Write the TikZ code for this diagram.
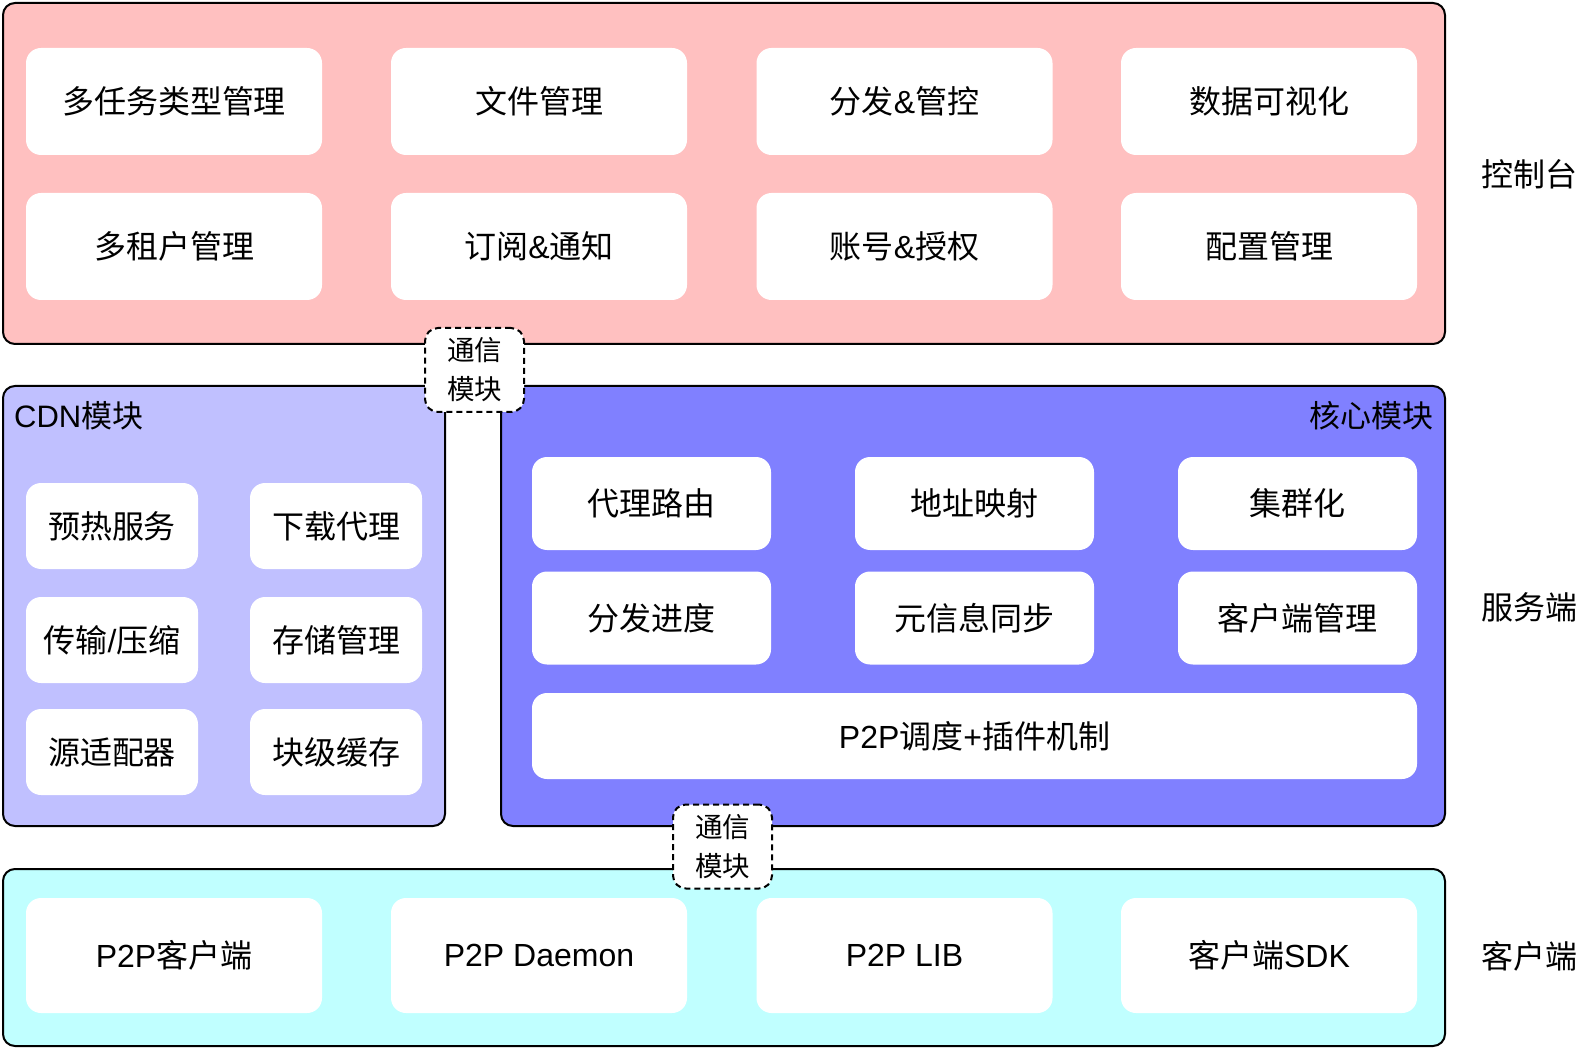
\documentclass[tikz,border=0pt]{standalone}
\usepackage{fontspec}
\setmainfont{Noto Sans CJK SC}
\newfontfamily\lat{Liberation Sans}
\definecolor{pinkc}{HTML}{FFC0C0}
\definecolor{lavc}{HTML}{C0C0FF}
\definecolor{bluec}{HTML}{8080FF}
\definecolor{cyanc}{HTML}{C0FFFF}
\begin{document}
\begin{tikzpicture}[x=1pt,y=-1pt,
  panel/.style={draw=black, line width=2pt, rounded corners=12pt, anchor=north west, inner sep=0pt},
  cell/.style={fill=white, rounded corners=15pt, inner sep=0pt, font=\fontsize{32}{36}\selectfont},
  comm/.style={draw=black, dashed, dash pattern=on 6pt off 4pt, line width=2pt, fill=white, rounded corners=13pt, align=center, inner sep=0pt, minimum width=99pt, minimum height=84pt, font=\fontsize{27.5}{39}\selectfont},
  side/.style={font=\fontsize{32}{36}\selectfont, inner sep=0pt},
  ttl/.style={font=\fontsize{31}{36}\selectfont, inner sep=0pt}]
\useasboundingbox (0,0) rectangle (1588,1048);
% panels
\node[panel, fill=pinkc, minimum width=1442pt, minimum height=341pt] (ctrl) at (2,2) {};
\node[panel, fill=lavc, minimum width=442pt, minimum height=440pt] (cdn) at (2,385) {};
\node[panel, fill=bluec, minimum width=944pt, minimum height=440pt] (core) at (500,385) {};
\node[panel, fill=cyanc, minimum width=1442pt, minimum height=177pt] (cli) at (2,868) {};
% control cells
\begin{scope}[every node/.append style={cell, minimum width=296pt, minimum height=107pt}]
\node (c11) at (174,101.5) {多任务类型管理};
\node (c12) at (539,101.5) {文件管理};
\node (c13) at (904.5,101.5) {分发{\lat\&}管控};
\node (c14) at (1269,101.5) {数据可视化};
\node (c21) at (174,246.5) {多租户管理};
\node (c22) at (539,246.5) {订阅{\lat\&}通知};
\node (c23) at (904.5,246.5) {账号{\lat\&}授权};
\node (c24) at (1269,246.5) {配置管理};
\end{scope}
% CDN cells
\begin{scope}[every node/.append style={cell, minimum width=172pt, minimum height=86pt}]
\node (d11) at (112,526) {预热服务};
\node (d12) at (336,526) {下载代理};
\node (d21) at (112,640) {传输{\lat/}压缩};
\node (d22) at (336,640) {存储管理};
\node (d31) at (112,752) {源适配器};
\node (d32) at (336,752) {块级缓存};
\end{scope}
% core cells
\begin{scope}[every node/.append style={cell, minimum width=239pt, minimum height=93pt}]
\node (k11) at (651.5,503.5) {代理路由};
\node (k12) at (974.5,503.5) {地址映射};
\node (k13) at (1297.5,503.5) {集群化};
\node (k21) at (651.5,618) {分发进度};
\node (k22) at (974.5,618) {元信息同步};
\node (k23) at (1297.5,618) {客户端管理};
\end{scope}
\node[cell, minimum width=885pt, minimum height=86pt] (p2p) at (974.5,736) {{\lat P2P}调度{\lat +}插件机制};
% client cells
\begin{scope}[every node/.append style={cell, minimum width=296pt, minimum height=115pt}]
\node (e1) at (174,955.5) {{\lat P2P}客户端};
\node (e2) at (539,955.5) {\lat P2P Daemon};
\node (e3) at (904.5,955.5) {\lat P2P LIB};
\node (e4) at (1269,955.5) {客户端{\lat SDK}};
\end{scope}
% titles
\node[ttl, anchor=west] (cdnt) at (14,416) {{\lat CDN}模块};
\node[ttl, anchor=east] (coret) at (1434,416) {核心模块};
% comm modules
\node[comm] (m1) at (474.5,370) {通信\\模块};
\node[comm] (m2) at (722.5,846.5) {通信\\模块};
% side labels
\node[side] (s1) at (1529,174) {控制台};
\node[side] (s2) at (1529,607) {服务端};
\node[side] (s3) at (1529,956) {客户端};
\end{tikzpicture}
\end{document}
